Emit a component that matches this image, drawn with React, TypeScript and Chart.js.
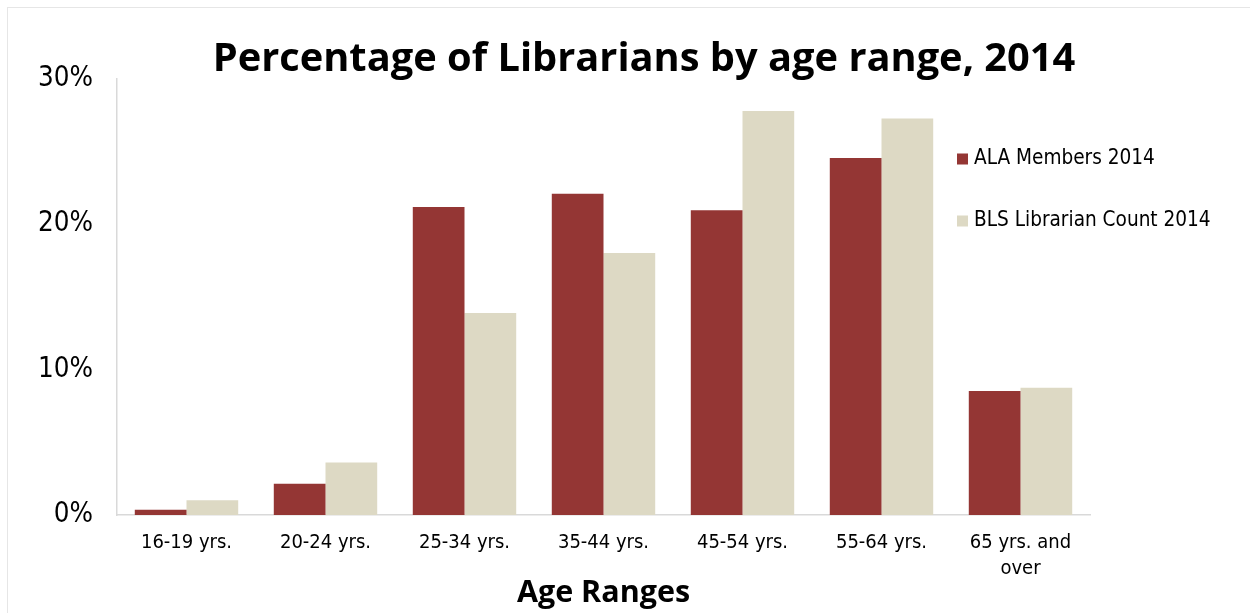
import React, { useEffect, useRef } from "react";
import { Chart, registerables } from "chart.js";

Chart.register(...registerables);

const categories: (string | string[])[] = [
  "16-19 yrs.",
  "20-24 yrs.",
  "25-34 yrs.",
  "35-44 yrs.",
  "45-54 yrs.",
  "55-64 yrs.",
  ["65 yrs. and", "over"],
];
const alaMembers = [0.36, 2.15, 21.2, 22.1, 20.97, 24.57, 8.53];
const blsCount = [1.02, 3.62, 13.9, 18.03, 27.79, 27.29, 8.76];
const yTicks = [0, 10, 20, 30];

const TITLE = "Percentage of Librarians by age range, 2014";
const X_TITLE = "Age Ranges";
const RED = "#943634";
const BEIGE = "#DDD9C4";
const TICK_FONT = "'DejaVu Sans Condensed', 'DejaVu Sans', sans-serif";
const TITLE_FONT = "'Open Sans', Lato, sans-serif";

const titlePlugin = {
  id: "customTitle",
  afterDraw(chart: any) {
    const ctx = chart.ctx;
    ctx.save();
    ctx.font = `bold 39.8px ${TITLE_FONT}`;
    ctx.fillStyle = "#000";
    ctx.textAlign = "center";
    ctx.textBaseline = "middle";
    ctx.fillText(TITLE, 636, 52);
    ctx.restore();
  },
};

const legendPlugin = {
  id: "customLegend",
  afterDraw(chart: any) {
    const ctx = chart.ctx;
    ctx.save();
    ctx.font = `20.6px ${TICK_FONT}`;
    ctx.textBaseline = "middle";
    ctx.textAlign = "left";
    chart.data.datasets.forEach((ds: any, i: number) => {
      const y = 151 + i * 62;
      ctx.fillStyle = ds.backgroundColor;
      ctx.fillRect(949, y - 5.5, 11, 11);
      ctx.fillStyle = "#000";
      ctx.fillText(ds.label, 966, y);
    });
    ctx.restore();
  },
};

function App() {
  const ref = useRef<HTMLCanvasElement>(null);
  useEffect(() => {
    if (!ref.current) return;
    const chart = new Chart(ref.current, {
      type: "bar",
      data: {
        labels: categories,
        datasets: [
          {
            label: "ALA Members 2014",
            data: alaMembers,
            backgroundColor: RED,
            categoryPercentage: 0.744,
            barPercentage: 1,
          },
          {
            label: "BLS Librarian Count 2014",
            data: blsCount,
            backgroundColor: BEIGE,
            categoryPercentage: 0.744,
            barPercentage: 1,
          },
        ],
      },
      options: {
        animation: false,
        responsive: false,
        layout: { padding: { left: 0, right: 160, top: 71, bottom: 0 } },
        plugins: {
          legend: { display: false },
          title: { display: false },
          tooltip: { enabled: false },
        },
        scales: {
          x: {
            grid: { display: false, drawTicks: false },
            border: { display: true, color: "#d9d9d9", width: 1.5 },
            ticks: {
              color: "#000",
              font: { family: TICK_FONT, size: 20, lineHeight: 1.3 },
              padding: 15,
              maxRotation: 0,
              autoSkip: false,
            },
            title: {
              display: true,
              text: X_TITLE,
              color: "#000",
              font: { family: TITLE_FONT, size: 30.5, weight: "bold" },
              padding: { top: 0, bottom: 1 },
            },
            afterFit(scale: any) {
              scale.height = 98;
            },
          },
          y: {
            min: 0,
            max: 30,
            afterBuildTicks(scale: any) {
              scale.ticks = yTicks.map((v) => ({ value: v }));
            },
            grid: { display: false, drawTicks: false },
            border: { display: true, color: "#d9d9d9", width: 1.5 },
            ticks: {
              color: "#000",
              font: { family: TICK_FONT, size: 27.5 },
              padding: 24,
              callback: (v: any) => `${v}%`,
            },
            afterFit(scale: any) {
              scale.width = 109;
            },
          },
        },
      },
      plugins: [titlePlugin, legendPlugin],
    });
    return () => chart.destroy();
  }, []);

  return (
    <div style={{ position: "fixed", inset: 0, overflow: "hidden", background: "#fff" }}>
      <div
        style={{
          position: "absolute",
          left: 7,
          top: 7,
          width: 1400,
          height: 800,
          borderLeft: "1px solid #e6e6e6",
          borderTop: "1px solid #e6e6e6",
        }}
      />
      <canvas
        ref={ref}
        width={1242}
        height={605}
        style={{ position: "absolute", left: 8, top: 8, width: 1242, height: 605 }}
      />
    </div>
  );
}

export default App;
